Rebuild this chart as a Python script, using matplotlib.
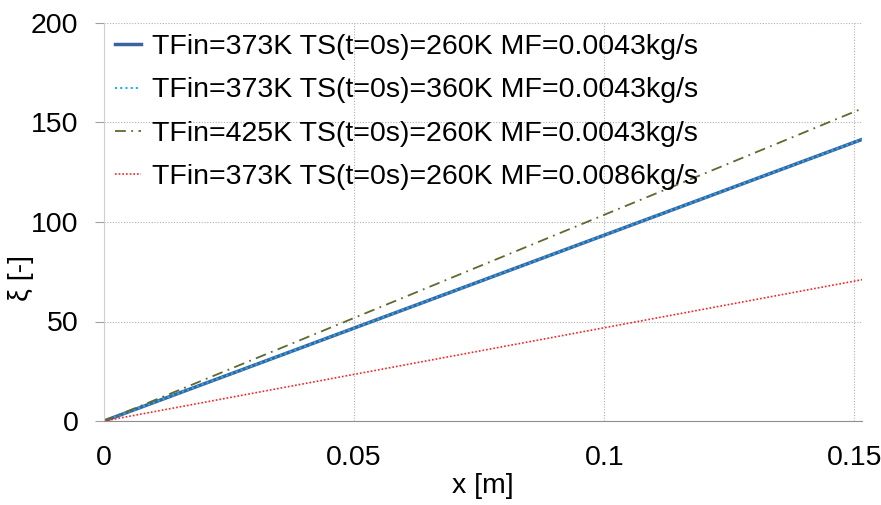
import matplotlib
matplotlib.use("Agg")
import matplotlib.pyplot as plt

plt.rcParams["font.family"] = ["Liberation Sans", "DejaVu Sans"]

# data (straight lines from the origin)
x_m = [0.0, 0.1515]
xi_373_260_mf43 = [0.0, 141.5]
xi_373_360_mf43 = [0.0, 141.5]
xi_425_260_mf43 = [0.0, 157.0]
xi_373_260_mf86 = [0.0, 71.0]

labels = ["TFin=373K TS(t=0s)=260K MF=0.0043kg/s",
          "TFin=373K TS(t=0s)=360K MF=0.0043kg/s",
          "TFin=425K TS(t=0s)=260K MF=0.0043kg/s",
          "TFin=373K TS(t=0s)=260K MF=0.0086kg/s"]

fs = 20.5

fig = plt.figure(figsize=(8.81, 5.05), dpi=100)
ax = fig.add_axes([104 / 881, 1 - 421 / 505, (862 - 104) / 881, (421 - 23) / 505])

ax.plot(x_m, xi_373_260_mf43, color="#3a64a0", lw=2.5, ls="-", label=labels[0])
ax.plot(x_m, xi_373_360_mf43, color="#1fb0ee", lw=1.5, ls=(0, (1, 1.5)), label=labels[1])
ax.plot(x_m, xi_425_260_mf43, color="#5b6b30", lw=1.3, ls=(0, (6, 3, 1, 3)), label=labels[2])
ax.plot(x_m, xi_373_260_mf86, color="#ff2020", lw=1.2, ls=(0, (1, 1.2)), label=labels[3])

ax.set_xlim(0, 0.1515)
ax.set_ylim(0, 200)
ax.set_xticks([0, 0.05, 0.1, 0.15])
ax.set_xticklabels(["0", "0.05", "0.1", "0.15"])
ax.set_yticks([0, 50, 100, 150, 200])

ax.grid(True, color="#b0b0b0", ls=(0, (1, 1.5)), lw=0.8)
for side in ["top", "right"]:
    ax.spines[side].set_visible(False)
ax.spines["left"].set_color("#d0d0d0")
ax.spines["bottom"].set_color("#909090")
ax.tick_params(axis="y", length=6.5, color="#a0a0a0", labelsize=fs, pad=12)
ax.tick_params(axis="x", length=0, labelsize=fs, pad=17)

ax.set_xlabel("x [m]", fontsize=fs, labelpad=2)
ax.set_ylabel("ξ [-]", fontsize=fs)
ax.yaxis.set_label_coords(-0.092, 0.36)

ax.legend(loc="upper left", frameon=False, fontsize=fs, handlelength=0.9,
          handletextpad=0.4, labelspacing=0.6, borderaxespad=0.1,
          borderpad=0.3, bbox_to_anchor=(0.0, 1.0))

fig.savefig("out.png", dpi=100)
